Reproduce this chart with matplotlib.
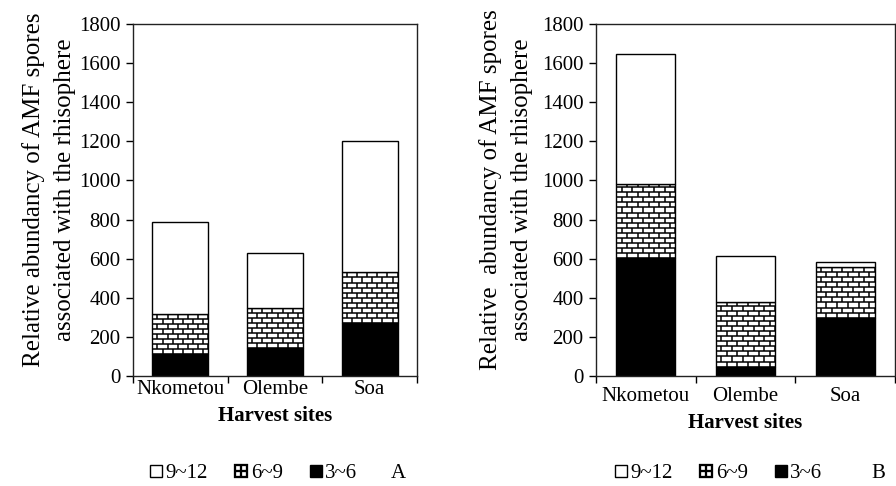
import matplotlib.pyplot as plt
import numpy as np
from matplotlib.collections import LineCollection
from matplotlib.lines import Line2D

plt.rcParams["font.family"] = ["Liberation Serif", "DejaVu Sans"]
plt.rcParams["font.size"] = 15

sites = ["Nkometou", "Olembe", "Soa"]
size_classes = ["3~6", "6~9", "9~12"]

# spore counts per size class (stacked), panel A and panel B
a_3_6 = [112, 141, 270]
a_6_9 = [206, 205, 260]
a_9_12 = [469, 281, 670]

b_3_6 = [602, 48, 298]
b_6_9 = [378, 330, 258]
b_9_12 = [667, 234, 29]

panels = [
    ("A", [a_3_6, a_6_9, a_9_12], "Relative abundancy of AMF spores\nassociated with the rhisophere"),
    ("B", [b_3_6, b_6_9, b_9_12], "Relative  abundancy of AMF spores\nassociated with the rhisophere"),
]


def brick_fill(ax, bar, row_h=26.0, n_bricks=5.5):
    """Draw a brick pattern clipped to a bar rectangle."""
    x0, y0 = bar.get_x(), bar.get_y()
    w, h = bar.get_width(), bar.get_height()
    bw = w / n_bricks
    segs = []
    n_rows = int(np.ceil(h / row_h)) + 1
    for k in range(n_rows):
        yb = y0 + k * row_h
        segs.append([(x0, yb), (x0 + w, yb)])
        off = 0 if k % 2 == 0 else bw / 2
        xs = np.arange(x0 + off, x0 + w + bw, bw)
        for xv in xs:
            segs.append([(xv, yb), (xv, yb + row_h)])
    lc = LineCollection(segs, colors="black", linewidths=1.1, zorder=3)
    ax.add_collection(lc)
    lc.set_clip_path(bar)


fig = plt.figure(figsize=(8.96, 4.86), dpi=100)
axes_pos = [
    [133 / 896, 110 / 486, 284 / 896, 352 / 486],
    [596 / 896, 110 / 486, 299 / 896, 352 / 486],
]
legend_x = [150 / 896, 615 / 896]
letter_x = [398 / 896, 878 / 896]
tick_pad = [3, 8]
xlabel_y = [(376 - 416) / 352, (376 - 423) / 352]
ylabel_x = [-0.20, -0.21]

x = np.arange(len(sites))
width = 0.59

for i, (letter, stacks, ylab) in enumerate(panels):
    ax = fig.add_axes(axes_pos[i])
    bottom = np.zeros(len(sites))
    for j, vals in enumerate(stacks):
        vals = np.array(vals, dtype=float)
        face = ["black", "white", "white"][j]
        bars = ax.bar(x, vals, width, bottom=bottom, color=face,
                      edgecolor="black", linewidth=1.0, zorder=2)
        if j == 1:
            for b in bars:
                brick_fill(ax, b)
        bottom += vals

    ax.set_xlim(-0.5, 2.5)
    ax.set_ylim(0, 1800)
    ax.set_yticks(np.arange(0, 1801, 200))
    ax.set_xticks([-0.5, 0.5, 1.5, 2.5])
    ax.set_xticklabels([])
    ax.set_xticks(x, minor=True)
    ax.set_xticklabels(sites, minor=True)
    ax.tick_params(axis="x", which="minor", length=0, pad=tick_pad[i])
    ax.tick_params(axis="both", which="major", direction="out", length=5,
                   width=1.0, color="black")
    ax.tick_params(axis="y", pad=4)
    for s in ax.spines.values():
        s.set_linewidth(1.0)
        s.set_color("#222222")

    ax.set_xlabel("Harvest sites", fontweight="bold")
    ax.xaxis.set_label_coords(0.5, xlabel_y[i])
    ax.xaxis.label.set_va("center")
    ax.set_ylabel(ylab, fontsize=18, linespacing=1.55)
    ax.yaxis.set_label_coords(ylabel_x[i], 0.53)

    handles = [
        Line2D([], [], ls="none", marker="s", markersize=9, markerfacecolor="white",
               markeredgecolor="black", markeredgewidth=1.0),
        Line2D([], [], ls="none", marker=r"$\boxplus$", markersize=10, color="black",
               markeredgewidth=0.2),
        Line2D([], [], ls="none", marker="s", markersize=9, markerfacecolor="black",
               markeredgecolor="black"),
    ]
    fig.legend(handles, ["9~12", "6~9", "3~6"], ncol=3, frameon=False,
               loc="center left", bbox_to_anchor=(legend_x[i], 13 / 486),
               handlelength=0.6, handletextpad=0.15,
               columnspacing=1.3, borderaxespad=0, borderpad=0, fontsize=15)
    fig.text(letter_x[i], 13 / 486, letter, ha="center", va="center", fontsize=15)

fig.savefig("out.png", dpi=100)
